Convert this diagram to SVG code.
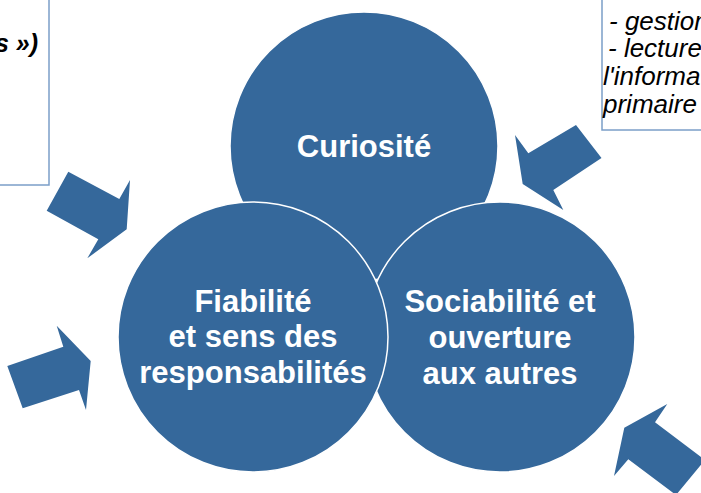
<svg xmlns="http://www.w3.org/2000/svg" width="701" height="493" viewBox="0 0 701 493">
<style>
.bg{fill:#ffffff}
.circ{fill:#35689b;stroke:#ffffff;stroke-width:1.5}
.arrow{fill:#35689b;stroke:none}
.box{fill:#ffffff;stroke:#7b9ec8;stroke-width:1.5}
.lbl{font-family:"Liberation Sans",Arial,sans-serif;font-weight:bold;font-size:31px;fill:#ffffff;text-anchor:middle}
.note{font-family:"Liberation Sans",Arial,sans-serif;font-style:italic;font-size:26px;fill:#000000}
.noteb{font-family:"Liberation Sans",Arial,sans-serif;font-style:italic;font-weight:bold;font-size:25px;fill:#000000}
</style>
<rect class="bg" x="0" y="0" width="701" height="493"/>
<g id="note-left">
<rect class="box" x="-10" y="-10" width="59" height="195"/>
<text class="noteb" x="38" y="52" text-anchor="end">s »)</text>
</g>
<g id="note-right">
<rect class="box" x="602" y="-10" width="120" height="140"/>
<text class="note" x="609" y="30">- gestion</text>
<text class="note" x="608" y="57">- lecture</text>
<text class="note" x="603" y="85">l'information</text>
<text class="note" x="603" y="113">primaire</text>
</g>
<g id="node-curiosite">
<circle class="circ" cx="364" cy="146" r="134"/>
<text class="lbl" x="364" y="157">Curiosité</text>
</g>
<g id="node-sociabilite">
<circle class="circ" cx="500" cy="337" r="135"/>
<text class="lbl" x="500" y="312">Sociabilité et</text>
<text class="lbl" x="500" y="348">ouverture</text>
<text class="lbl" x="500" y="384">aux autres</text>
</g>
<g id="node-fiabilite">
<circle class="circ" cx="253" cy="337" r="135"/>
<text class="lbl" x="253" y="312">Fiabilité</text>
<text class="lbl" x="253" y="347">et sens des</text>
<text class="lbl" x="253" y="383">responsabilités</text>
</g>
<g id="connectors">
<polygon class="arrow" points="68.3,171.7 119.3,199 130,180 126.7,229.3 87.3,258.3 98.3,239.3 46.7,210.7"/>
<polygon class="arrow" points="7.3,366 63.3,346.7 56.7,325.7 90.7,361 86,410 79,390 22.7,408.3"/>
<polygon class="arrow" points="576,125 601.5,158 553.3,190 563.3,210 522.7,184 515,135 528.3,153.3"/>
<polygon class="arrow" points="667.3,404 655,422.3 705,460 676,495 628.3,459.3 614,476 624.3,427.7"/>
</g>
</svg>
